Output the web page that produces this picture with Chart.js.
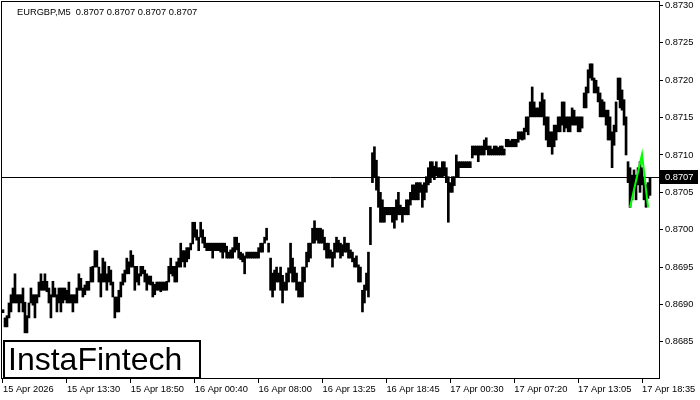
<!DOCTYPE html>
<html><head><meta charset="utf-8">
<script src="https://cdn.jsdelivr.net/npm/chart.js@4.4.1/dist/chart.umd.min.js"></script>
<style>html,body{margin:0;padding:0;background:#fff;}#wrap{position:relative;width:700px;height:400px;}</style>
</head><body><div id="wrap"><canvas id="c" width="700" height="400"></canvas></div>
<script>
const symbolTitle = 'EURGBP,M5  0.8707 0.8707 0.8707 0.8707';
const lastPrice = 0.8707;
const logoText = 'InstaFintech';
const tickLabels = ['15 Apr 2026','15 Apr 13:30','15 Apr 18:50','16 Apr 00:40','16 Apr 08:00','16 Apr 13:25','16 Apr 18:45','17 Apr 00:30','17 Apr 07:20','17 Apr 13:05','17 Apr 18:35'];
const yTicks = [0.8685,0.8690,0.8695,0.8700,0.8705,0.8710,0.8715,0.8720,0.8725,0.8730];
const highs = [
0.86893,0.86882,0.86885,0.86902,0.86913,0.86922,0.86941,0.86913,0.86913,0.86913,
0.86922,0.86903,0.86885,0.86902,0.86922,0.86913,0.86913,0.86913,0.86930,0.86941,
0.86931,0.86941,0.86931,0.86922,0.86913,0.86931,0.86922,0.86913,0.86922,0.86922,
0.86922,0.86922,0.86919,0.86930,0.86913,0.86913,0.86913,0.86922,0.86941,0.86935,
0.86922,0.86926,0.86931,0.86931,0.86950,0.86951,0.86972,0.86972,0.86950,0.86941,
0.86962,0.86957,0.86941,0.86951,0.86946,0.86930,0.86910,0.86910,0.86919,0.86930,
0.86941,0.86946,0.86962,0.86957,0.86972,0.86966,0.86951,0.86951,0.86941,0.86951,
0.86951,0.86946,0.86941,0.86938,0.86938,0.86930,0.86927,0.86930,0.86930,0.86930,
0.86930,0.86930,0.86931,0.86951,0.86962,0.86951,0.86951,0.86957,0.86962,0.86982,
0.86972,0.86972,0.86976,0.86976,0.86982,0.87010,0.87010,0.87000,0.86990,0.87010,
0.87000,0.86990,0.86982,0.86982,0.86982,0.86982,0.86982,0.86982,0.86982,0.86982,
0.86982,0.86982,0.86978,0.86970,0.86973,0.86976,0.86990,0.86990,0.86982,0.86970,
0.86968,0.86965,0.86970,0.86970,0.86970,0.86970,0.86970,0.86970,0.86976,0.86982,
0.86982,0.86990,0.87002,0.86982,0.86962,0.86942,0.86946,0.86950,0.86942,0.86950,
0.86939,0.86930,0.86942,0.86949,0.86982,0.86962,0.86950,0.86942,0.86930,0.86930,
0.86950,0.86950,0.86970,0.86982,0.86982,0.87002,0.87012,0.87002,0.87002,0.87002,
0.87000,0.86990,0.86982,0.86982,0.86973,0.86970,0.86982,0.86990,0.86986,0.86982,
0.86980,0.86990,0.86982,0.86982,0.86973,0.86970,0.86962,0.86965,0.86953,0.86950,
0.86919,0.86926,0.86942,0.86970,0.87030,0.87103,0.87111,0.87093,0.87071,0.87050,
0.87040,0.87030,0.87030,0.87030,0.87030,0.87030,0.87030,0.87040,0.87050,0.87033,
0.87030,0.87030,0.87040,0.87040,0.87050,0.87060,0.87060,0.87063,0.87063,0.87063,
0.87060,0.87063,0.87071,0.87083,0.87091,0.87091,0.87085,0.87091,0.87083,0.87083,
0.87091,0.87091,0.87083,0.87071,0.87063,0.87071,0.87071,0.87100,0.87091,0.87091,
0.87091,0.87091,0.87091,0.87091,0.87091,0.87112,0.87112,0.87112,0.87112,0.87112,
0.87112,0.87120,0.87123,0.87112,0.87112,0.87108,0.87112,0.87112,0.87110,0.87112,
0.87112,0.87108,0.87121,0.87121,0.87119,0.87121,0.87121,0.87121,0.87131,0.87131,
0.87131,0.87136,0.87151,0.87151,0.87171,0.87191,0.87171,0.87163,0.87163,0.87171,
0.87183,0.87174,0.87151,0.87151,0.87131,0.87131,0.87140,0.87140,0.87151,0.87151,
0.87171,0.87171,0.87151,0.87151,0.87151,0.87163,0.87160,0.87151,0.87151,0.87151,
0.87151,0.87183,0.87191,0.87214,0.87222,0.87222,0.87203,0.87200,0.87191,0.87183,
0.87174,0.87171,0.87160,0.87160,0.87151,0.87131,0.87140,0.87171,0.87203,0.87203,
0.87187,0.87174,0.87151,0.87091,0.87083,0.87073,0.87080,0.87073,0.87083,0.87091,
0.87083,0.87071,0.87060,0.87063,0.87070
];
const lows = [
0.86889,0.86870,0.86870,0.86882,0.86890,0.86902,0.86902,0.86902,0.86890,0.86902,
0.86890,0.86862,0.86862,0.86882,0.86902,0.86899,0.86882,0.86902,0.86910,0.86919,
0.86919,0.86919,0.86917,0.86902,0.86882,0.86910,0.86910,0.86890,0.86902,0.86890,
0.86902,0.86906,0.86902,0.86902,0.86902,0.86890,0.86902,0.86902,0.86919,0.86919,
0.86910,0.86913,0.86919,0.86919,0.86930,0.86930,0.86950,0.86950,0.86930,0.86910,
0.86930,0.86930,0.86919,0.86930,0.86926,0.86910,0.86882,0.86890,0.86890,0.86910,
0.86926,0.86930,0.86941,0.86941,0.86950,0.86950,0.86919,0.86930,0.86926,0.86938,
0.86941,0.86930,0.86919,0.86927,0.86926,0.86910,0.86913,0.86919,0.86919,0.86917,
0.86919,0.86919,0.86919,0.86930,0.86941,0.86938,0.86930,0.86930,0.86950,0.86950,
0.86957,0.86950,0.86957,0.86961,0.86973,0.86981,0.86990,0.86986,0.86972,0.86990,
0.86982,0.86976,0.86972,0.86972,0.86972,0.86962,0.86972,0.86972,0.86972,0.86970,
0.86962,0.86970,0.86962,0.86962,0.86962,0.86962,0.86970,0.86973,0.86962,0.86960,
0.86957,0.86941,0.86962,0.86962,0.86962,0.86962,0.86962,0.86962,0.86962,0.86970,
0.86970,0.86982,0.86986,0.86970,0.86919,0.86910,0.86919,0.86930,0.86930,0.86919,
0.86902,0.86919,0.86919,0.86930,0.86942,0.86930,0.86930,0.86919,0.86910,0.86910,
0.86910,0.86930,0.86950,0.86957,0.86962,0.86982,0.86982,0.86986,0.86982,0.86982,
0.86982,0.86973,0.86962,0.86962,0.86962,0.86950,0.86962,0.86970,0.86970,0.86962,
0.86965,0.86970,0.86970,0.86962,0.86962,0.86957,0.86950,0.86950,0.86930,0.86930,
0.86890,0.86902,0.86919,0.86910,0.86980,0.87063,0.87071,0.87053,0.87030,0.87010,
0.87010,0.87010,0.87020,0.87020,0.87020,0.87010,0.87002,0.87013,0.87020,0.87020,
0.87010,0.87020,0.87020,0.87020,0.87033,0.87040,0.87040,0.87040,0.87040,0.87050,
0.87030,0.87040,0.87050,0.87060,0.87063,0.87071,0.87067,0.87072,0.87071,0.87071,
0.87071,0.87072,0.87063,0.87010,0.87050,0.87050,0.87059,0.87071,0.87071,0.87083,
0.87083,0.87083,0.87083,0.87083,0.87083,0.87096,0.87100,0.87100,0.87091,0.87100,
0.87100,0.87100,0.87107,0.87100,0.87100,0.87100,0.87100,0.87100,0.87100,0.87100,
0.87100,0.87100,0.87111,0.87111,0.87111,0.87111,0.87111,0.87111,0.87117,0.87121,
0.87120,0.87121,0.87131,0.87127,0.87151,0.87151,0.87151,0.87151,0.87151,0.87151,
0.87151,0.87140,0.87120,0.87111,0.87111,0.87101,0.87111,0.87120,0.87131,0.87131,
0.87140,0.87131,0.87136,0.87131,0.87131,0.87140,0.87140,0.87140,0.87131,0.87131,
0.87136,0.87163,0.87163,0.87183,0.87203,0.87200,0.87183,0.87183,0.87171,0.87151,
0.87151,0.87151,0.87140,0.87120,0.87120,0.87083,0.87113,0.87131,0.87174,0.87163,
0.87160,0.87140,0.87100,0.87063,0.87030,0.87040,0.87053,0.87040,0.87060,0.87050,
0.87060,0.87040,0.87030,0.87042,0.87046
];
const patternIndex = [314, 320, 323];
const patternValue = [0.87030, 0.87101, 0.87030];
const barCount = 329;
const labelEvery = 32;

const labels = Array.from({length: barCount}, (_, i) => 'b' + i);
const FONT = '"Liberation Sans", Arial, sans-serif';

const overlay = {
  id: 'overlay',
  beforeDatasetsDraw(chart) {
    const {ctx, chartArea: a, scales: {y}} = chart;
    const py = Math.round(y.getPixelForValue(lastPrice)) + 0.5;
    ctx.save();
    ctx.strokeStyle = '#000'; ctx.lineWidth = 1;
    ctx.beginPath(); ctx.moveTo(a.left, py); ctx.lineTo(a.right, py); ctx.stroke();
    ctx.restore();
  },
  afterDraw(chart) {
    const {ctx, chartArea: a, scales: {y}} = chart;
    ctx.save();
    ctx.strokeStyle = '#000'; ctx.lineWidth = 1;
    ctx.strokeRect(a.left - 0.5, a.top - 0.5, a.right - a.left + 1, a.bottom - a.top + 1);
    const py = Math.round(y.getPixelForValue(lastPrice));
    ctx.fillStyle = '#000';
    ctx.fillRect(a.right + 1, py - 7, 700 - a.right - 3, 14);
    ctx.fillStyle = '#fff';
    ctx.font = '9.3px ' + FONT;
    ctx.textBaseline = 'middle'; ctx.textAlign = 'left';
    ctx.fillText(lastPrice.toFixed(4), a.right + 6, py);
    ctx.fillStyle = '#000';
    ctx.fillText(symbolTitle, 17, 12);
    ctx.fillStyle = '#fff';
    ctx.fillRect(3, 340, 198, 38);
    ctx.strokeStyle = '#000'; ctx.lineWidth = 2;
    ctx.strokeRect(4, 341, 196, 37);
    ctx.fillStyle = '#000';
    ctx.font = '32px ' + FONT;
    ctx.textBaseline = 'alphabetic';
    ctx.fillText(logoText, 8, 370);
    ctx.restore();
  }
};

new Chart(document.getElementById('c'), {
  data: {
    labels: labels,
    datasets: [
      {
        type: 'line',
        order: 0,
        data: patternIndex.map((idx, k) => ({x: labels[idx], y: patternValue[k]})),
        borderColor: '#00ff00',
        borderWidth: 2,
        pointRadius: 0,
        tension: 0
      },
      {
        type: 'bar',
        order: 1,
        data: lows.map((l, i) => [l, highs[i]]),
        backgroundColor: '#000',
        borderWidth: 0,
        borderSkipped: false,
        barThickness: 2
      }
    ]
  },
  options: {
    responsive: false,
    devicePixelRatio: 1,
    animation: false,
    events: [],
    layout: {padding: {left: 2, top: 2, right: 0, bottom: 0}},
    plugins: {legend: {display: false}, tooltip: {enabled: false}},
    scales: {
      x: {
        type: 'category',
        offset: true,
        border: {display: false},
        grid: {
          display: true, offset: false, drawOnChartArea: false, drawTicks: true, tickLength: 5,
          color: (c) => (c.index % labelEvery === 0 ? '#000' : 'rgba(0,0,0,0)')
        },
        ticks: {
          autoSkip: false, maxRotation: 0, minRotation: 0, align: 'start', padding: 1,
          color: '#000', font: {family: FONT, size: 9.3},
          callback: (v, i) => (i % labelEvery === 0 ? tickLabels[i / labelEvery] : '')
        },
        afterFit: (s) => { s.height = 22; s.paddingLeft = 0; s.paddingRight = 0; }
      },
      y: {
        position: 'right',
        min: 0.868016,
        max: 0.873047,
        border: {display: false},
        grid: {display: true, drawOnChartArea: false, drawTicks: true, tickLength: 4, color: '#000'},
        afterBuildTicks: (s) => { s.ticks = yTicks.map(v => ({value: v})); },
        ticks: {
          padding: 2, color: '#000', font: {family: FONT, size: 9.3},
          callback: (v) => Number(v).toFixed(4)
        },
        afterFit: (s) => { s.width = 41; s.paddingTop = 0; s.paddingBottom = 0; }
      }
    }
  },
  plugins: [overlay]
});
</script>
</body></html>
